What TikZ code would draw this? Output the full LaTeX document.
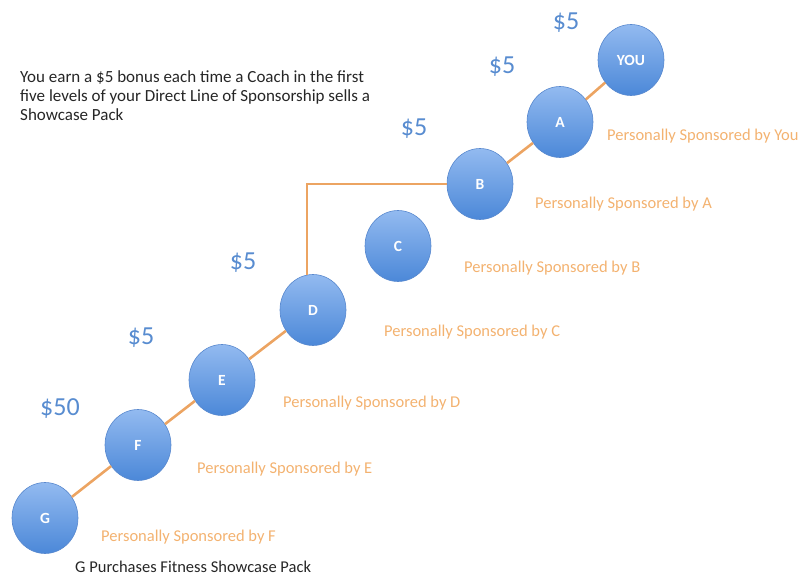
\documentclass[tikz,border=0pt]{standalone}
\usepackage{fontspec}
\setmainfont{Carlito}
\usetikzlibrary{positioning, shapes.geometric}

\definecolor{coachtop}{RGB}{146,186,240}
\definecolor{coachbot}{RGB}{76,136,216}
\definecolor{coachrim}{RGB}{88,136,206}
\definecolor{bonusblue}{RGB}{88,140,208}
\definecolor{sponsor}{RGB}{243,178,112}
\definecolor{lineorange}{RGB}{236,164,98}

\begin{document}
\begin{tikzpicture}[
                                        x=1pt, y=-1pt,
                                        coach/.style={ellipse, draw=coachrim, line width=0.6pt, top color=coachtop, bottom color=coachbot, minimum width=66pt, minimum height=71pt, inner sep=0pt, text=white, font=\fontsize{15.5}{16}\selectfont\bfseries},
                                        bonus/.style={text=bonusblue, font=\fontsize{26}{28}\selectfont, inner sep=0pt},
                                        sponsor/.style={anchor=west, text=sponsor, font=\fontsize{16.5}{18}\selectfont, inner sep=0pt},
                                        link/.style={draw=lineorange, line width=2.6pt},
                                ]
                                \useasboundingbox (0,0) rectangle (798,577);
                                % coaches
                                \node[coach] (you) at (631,60) {YOU};
                                \node[coach] (a) at (560,122) {A};
                                \node[coach] (b) at (480,184) {B};
                                \node[coach] (c) at (398,246) {C};
                                \node[coach] (d) at (313,310) {D};
                                \node[coach] (e) at (222,380) {E};
                                \node[coach] (f) at (138,445) {F};
                                \node[coach] (g) at (45,518) {G};
                                % line of sponsorship
                                \begin{scope}[on background layer/.try]
                                \draw[link] (g) -- (f) -- (e) -- (d);
                                \draw[link] (d.100) |- (b.west);
                                \draw[link] (b) -- (a) -- (you);
                                \end{scope}
                                % bonuses
                                \node[bonus] (byou) at (566,23) {\$5};
                                \node[bonus] (ba) at (502,67) {\$5};
                                \node[bonus] (bb) at (414,129) {\$5};
                                \node[bonus] (bd) at (243,263) {\$5};
                                \node[bonus] (be) at (141,338) {\$5};
                                \node[bonus] (bf) at (60,409) {\$50};
                                % sponsors
                                \node[sponsor] (sa) at (607,136) {Personally Sponsored by You};
                                \node[sponsor] (sb) at (535,204) {Personally Sponsored by A};
                                \node[sponsor] (sc) at (464,268) {Personally Sponsored by B};
                                \node[sponsor] (sd) at (384,332) {Personally Sponsored by C};
                                \node[sponsor] (se) at (283,403) {Personally Sponsored by D};
                                \node[sponsor] (sf) at (197,469) {Personally Sponsored by E};
                                \node[sponsor] (sg) at (101,537) {Personally Sponsored by F};
                                % notes
                                \node[anchor=base west, inner sep=0pt, text=black!85, font=\fontsize{16.5}{18}\selectfont] (buy) at (75,572) {G Purchases Fitness Showcase Pack};
                                \node[anchor=base west, inner sep=0pt, align=left, text=black!85, font=\fontsize{17}{19}\selectfont] (rule) at (20,121) {You earn a \$5 bonus each time a Coach in the first\\five levels of your Direct Line of Sponsorship sells a\\Showcase Pack};
                        \end{tikzpicture}
\end{document}
